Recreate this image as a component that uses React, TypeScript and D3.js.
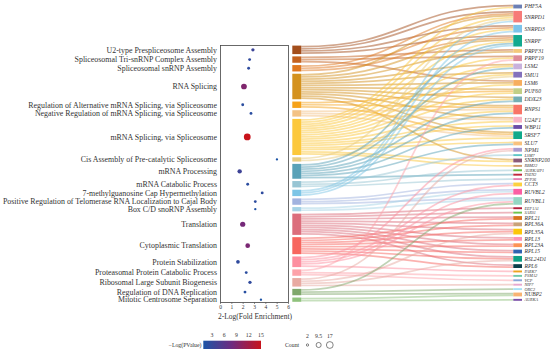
import React from "react";
import * as d3 from "d3";

// GO terms (top to bottom) with the dot plot values
const terms = [
  "U2-type Prespliceosome Assembly",
  "Spliceosomal Tri-snRNP Complex Assembly",
  "Spliceosomal snRNP Assembly",
  "RNA Splicing",
  "Regulation of Alternative mRNA Splicing, via Spliceosome",
  "Negative Regulation of mRNA Splicing, via Spliceosome",
  "mRNA Splicing, via Spliceosome",
  "Cis Assembly of Pre-catalytic Spliceosome",
  "mRNA Processing",
  "mRNA Catabolic Process",
  "7-methylguanosine Cap Hypermethylation",
  "Positive Regulation of Telomerase RNA Localization to Cajal Body",
  "Box C/D snoRNP Assembly",
  "Translation",
  "Cytoplasmic Translation",
  "Protein Stabilization",
  "Proteasomal Protein Catabolic Process",
  "Ribosomal Large Subunit Biogenesis",
  "Regulation of DNA Replication",
  "Mitotic Centrosome Separation",
];

const foldEnrichment = [
  2.86, 2.57, 2.48, 2.07, 1.96, 2.69, 2.36, 4.98, 1.69, 2.4,
  3.68, 3.07, 3.07, 1.96, 2.4, 1.54, 2.27, 2.6, 2.16, 3.57,
];

const negLogP = [
  3.6, 2.6, 2.4, 9.2, 2.1, 2.0, 15, 0.9, 3.8, 2.2,
  2.4, 2.3, 1.2, 8.4, 8.8, 2.5, 2.1, 2.6, 1.8, 1.0,
];

// genes of each term (one sankey link per pair)
const termGenes = [
  ["PHF5A", "SNRPD1", "SNRPD3", "SNRPF"],
  ["PRPF31", "PRPF19", "LSM6"],
  ["SNRPD1", "SNRPD3", "SNRPF"],
  ["SNRPD1", "SNRPF", "PRPF31", "LSM2", "SMU1", "LSM6", "PUF60", "DDX23", "RNPS1", "U2AF1", "SRSF7", "SNRNP200"],
  ["RNPS1", "SRSF7", "PUF60"],
  ["RNPS1", "SRSF7", "U2AF1"],
  ["PHF5A", "SNRPD1", "SNRPD3", "SNRPF", "PRPF19", "LSM2", "SMU1", "LSM6", "PUF60", "DDX23", "RNPS1", "U2AF1", "WBP11", "SRSF7", "SLU7", "SNRNP200", "RBM22"],
  ["SNRPD1", "SMU1"],
  ["SNRPF", "LSM2", "DDX23", "RNPS1", "WBP11", "SLU7", "TSEN2"],
  ["LSM7", "AURKAIP1", "ZFP36"],
  ["SNRPD1", "SNRPD3", "SNRPF"],
  ["CCT3", "RUVBL1", "RUVBL2"],
  ["RUVBL1", "RUVBL2"],
  ["EEF1A1", "SARS1", "RPL21", "RPL36A", "RPL35A", "RPL13", "RPL23A", "RPL15", "RSL24D1", "RPL6"],
  ["RPL21", "RPL36A", "RPL35A", "RPL13", "RPL23A", "RPL15", "RSL24D1", "RPL6"],
  ["NPM1", "CCT3", "RUVBL2", "PARK7", "RUVBL1"],
  ["PRPF19", "PSMA2", "VCP"],
  ["NPM1", "RPL35A", "NIP7", "RSL24D1"],
  ["RUVBL1", "ORC2", "NUBP2"],
  ["NUBP2", "AURKA"],
];

const genes = [
  "PHF5A", "SNRPD1", "SNRPD3", "SNRPF", "PRPF31", "PRPF19", "LSM2", "SMU1", "LSM6", "PUF60",
  "DDX23", "RNPS1", "U2AF1", "WBP11", "SRSF7", "SLU7", "NPM1", "LSM7", "SNRNP200", "RBM22",
  "AURKAIP1", "TSEN2", "ZFP36", "CCT3", "RUVBL2", "RUVBL1", "EEF1A1", "SARS1", "RPL21", "RPL36A",
  "RPL35A", "RPL13", "RPL23A", "RPL15", "RSL24D1", "RPL6", "PARK7", "PSMA2", "VCP", "NIP7",
  "ORC2", "NUBP2", "AURKA",
];

const termColors = [
  "#a34e1c", "#c4621f", "#e0781f", "#d4921f", "#f6a31b", "#f3c285", "#fcc83c", "#e8cc80",
  "#5aa2b8", "#98c5d4", "#7dc5e6", "#a2b3df", "#a6d3e6", "#dc6e7c", "#f7665f", "#fd8fa0",
  "#fda2a9", "#e8aaa2", "#7fa86c", "#8fc27d",
];

const geneColors = [
  "#6b7fb5", "#f77b78", "#7cc3ea", "#12a98f", "#f3c87a", "#de8c99", "#c8b1dc", "#8270bc", "#f7ae5e", "#c2cf86",
  "#74aeb4", "#f87467", "#f9b3c4", "#6b4ea8", "#11a98a", "#f8c27e", "#a99bd0", "#5ec6c6", "#8a5a78", "#d19a6a",
  "#6cbf4c", "#c0283c", "#e57fb0", "#fcd140", "#fb5fa3", "#94d6c3", "#b4203e", "#6dc24c", "#d8731e", "#c9a27a",
  "#fcc60b", "#fc96b8", "#fc9355", "#2f62b0", "#0fa085", "#0c3f4a", "#eea21d", "#73c9a8", "#8ba4d8", "#e8a8cf",
  "#a6e0f6", "#f8b373", "#7b4fa8",
];

const xTicks = [0, 1, 2, 3, 4, 5, 6];
const pTicks = [3, 6, 9, 12, 15];
const countTicks = [2, 9.5, 17];

const serif = "'Liberation Serif', 'DejaVu Serif', serif";

// stack node heights in a column between y0 and y1
function stackColumn(values: number[], y0: number, y1: number, pad: number) {
  const k = d3
    .scaleLinear()
    .domain([0, d3.sum(values)])
    .range([0, y1 - y0 - pad * (values.length - 1)]);
  let y = y0;
  const nodes = values.map((v) => {
    const n = { y0: y, y1: y + k(v) };
    y = n.y1 + pad;
    return n;
  });
  return { nodes, unit: k(1) };
}

export default function App() {
  const W = 550;
  const H = 354;

  const termCount = termGenes.map((g) => g.length);
  const geneCount = genes.map((g) => termGenes.filter((list) => list.includes(g)).length);

  const left = stackColumn(termCount, 45.6, 301.8, 2.3);
  const right = stackColumn(geneCount, 4.6, 300.8, 2.5);

  const lx0 = 292.3, lx1 = 301.3;
  const rx0 = 513.3, rx1 = 522;

  // links
  type L = { s: number; t: number; sy: number; ty: number };
  const links: L[] = [];
  termGenes.forEach((list, s) =>
    list.forEach((g) => links.push({ s, t: genes.indexOf(g), sy: 0, ty: 0 }))
  );
  const srcOff = terms.map(() => 0);
  [...links]
    .sort((a, b) => a.s - b.s || a.t - b.t)
    .forEach((l) => {
      l.sy = left.nodes[l.s].y0 + (srcOff[l.s] + 0.5) * left.unit;
      srcOff[l.s] += 1;
    });
  const tgtOff = genes.map(() => 0);
  [...links]
    .sort((a, b) => a.t - b.t || a.s - b.s)
    .forEach((l) => {
      l.ty = right.nodes[l.t].y0 + (tgtOff[l.t] + 0.5) * right.unit;
      tgtOff[l.t] += 1;
    });
  const linkPath = d3
    .linkHorizontal<L, [number, number]>()
    .source((d) => [lx1, d.sy])
    .target((d) => [rx0, d.ty]);
  const linkW = ((left.unit + right.unit) / 2) * 0.85;

  // dot plot
  const box = { x0: 220.5, x1: 288.5, y0: 45.5, y1: 302.5 };
  const x = d3.scaleLinear().domain([0, 6]).range([box.x0, box.x1]);
  const r = d3.scaleSqrt().domain([0, 17]).range([0, 3.4]);
  const [pMin, pMax] = d3.extent(negLogP) as [number, number];
  const color = d3
    .scaleLinear<string>()
    .domain([pMin, (pMin + pMax) / 2, pMax])
    .range(["#1c54a6", "#6f2a7f", "#c8131b"])
    .interpolate(d3.interpolateRgb);
  const yTerm = (i: number) => (left.nodes[i].y0 + left.nodes[i].y1) / 2;

  // legends
  const cb = d3.scaleLinear().domain([pMin, pMax]).range([203.3, 261]);
  const cbStops = d3.range(0, 1.0001, 0.1).map((t) => pMin + t * (pMax - pMin));
  const cx = d3.scalePoint<number>().domain(countTicks).range([307.5, 329.8]);

  return (
    <svg
      width={W}
      height={H}
      style={{ position: "absolute", left: 0, top: 0, background: "#fff" }}
      fontFamily={serif}
    >
      <defs>
        <linearGradient id="pgrad" x1="0" x2="1" y1="0" y2="0">
          {cbStops.map((v, i) => (
            <stop key={i} offset={(cb(v) - 203.3) / (261 - 203.3)} stopColor={color(v)} />
          ))}
        </linearGradient>
      </defs>

      {/* sankey links */}
      <g fill="none">
        {links.map((l, i) => (
          <path
            key={i}
            d={linkPath(l) || ""}
            stroke={termColors[l.s]}
            strokeOpacity={0.5}
            strokeWidth={linkW}
          />
        ))}
      </g>

      {/* term nodes */}
      {left.nodes.map((n, i) => (
        <rect key={i} x={lx0} y={n.y0} width={lx1 - lx0} height={n.y1 - n.y0} fill={termColors[i]} />
      ))}

      {/* gene nodes + labels */}
      {right.nodes.map((n, i) => (
        <g key={i}>
          <rect x={rx0} y={n.y0} width={rx1 - rx0} height={Math.max(n.y1 - n.y0, 1)} fill={geneColors[i]} />
          <text
            x={rx1 + 2.5}
            y={(n.y0 + n.y1) / 2}
            dy="0.35em"
            fontSize={geneCount[i] > 1 ? 5.6 : 4.2}
            fontStyle="italic"
            fill="#333"
          >
            {genes[i]}
          </text>
        </g>
      ))}

      {/* dot plot */}
      <rect
        x={box.x0}
        y={box.y0}
        width={box.x1 - box.x0}
        height={box.y1 - box.y0}
        fill="none"
        stroke="#444"
        strokeWidth={0.8}
      />
      {terms.map((t, i) => (
        <g key={t}>
          <text x={217} y={yTerm(i)} dy="0.35em" textAnchor="end" fontSize={7.9} fill="#333">
            {t}
          </text>
          <circle cx={x(foldEnrichment[i])} cy={yTerm(i)} r={r(termCount[i])} fill={color(negLogP[i])} />
        </g>
      ))}
      {xTicks.map((t) => (
        <g key={t}>
          <line x1={x(t)} x2={x(t)} y1={box.y1} y2={box.y1 + 1.5} stroke="#444" strokeWidth={0.6} />
          <text x={x(t)} y={308.5} textAnchor="middle" fontSize={5.5} fill="#333">
            {t}
          </text>
        </g>
      ))}
      <text x={255} y={319} textAnchor="middle" fontSize={7.5} fill="#333">
        2-Log(Fold Enrichment)
      </text>

      {/* p-value colorbar */}
      <text x={201.5} y={345} dy="0.35em" textAnchor="end" fontSize={5.8} fill="#333">
        −Log(PValue)
      </text>
      <rect x={203.3} y={340.7} width={261 - 203.3} height={8.3} fill="url(#pgrad)" />
      {pTicks.map((t) => (
        <text key={t} x={cb(t)} y={337} textAnchor="middle" fontSize={5.8} fill="#333">
          {t}
        </text>
      ))}

      {/* count legend */}
      <text x={285} y={345} dy="0.35em" fontSize={5.8} fill="#333">
        Count
      </text>
      {countTicks.map((c) => (
        <g key={c}>
          <circle cx={cx(c)} cy={345} r={r(c)} fill="none" stroke="#333" strokeWidth={0.6} />
          <text x={cx(c)} y={338} textAnchor="middle" fontSize={5.8} fill="#333">
            {c}
          </text>
        </g>
      ))}
    </svg>
  );
}
